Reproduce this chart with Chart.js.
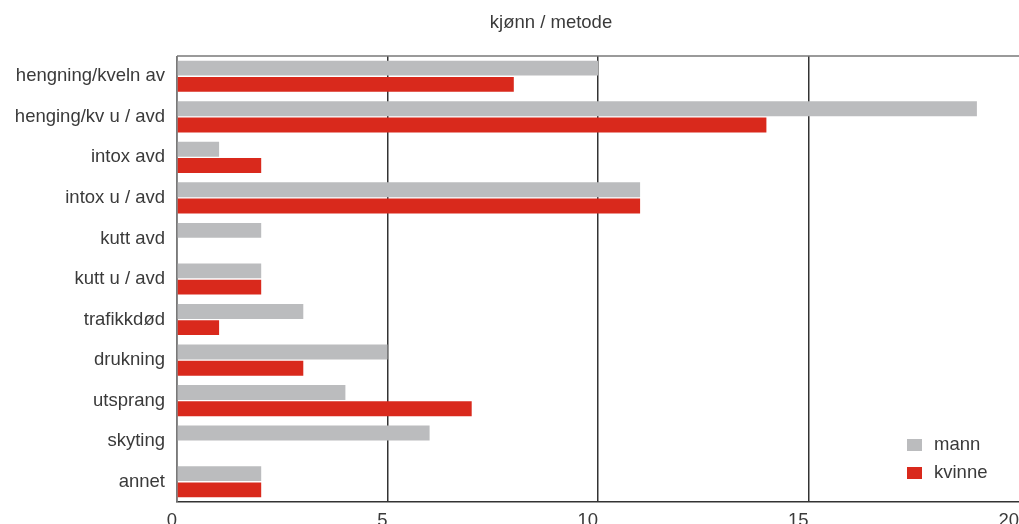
<!DOCTYPE html>
<html>
<head>
<meta charset="utf-8">
<script src="https://cdn.jsdelivr.net/npm/chart.js@4/dist/chart.umd.min.js"></script>
<style>
  html, body { margin: 0; padding: 0; background: #fff; }
  #wrap { width: 1019px; height: 524px; position: relative; }
</style>
</head>
<body>
<div id="wrap"><canvas id="c"></canvas></div>
<script>
// Selvmordsmetode fordelt på kjønn
const categories = [
  'hengning/kveln av', 'henging/kv u / avd', 'intox avd', 'intox u / avd',
  'kutt avd', 'kutt u / avd', 'trafikkdød', 'drukning', 'utsprang',
  'skyting', 'annet'
];
const mann   = [10, 19, 1, 11, 2, 2, 3, 5, 4, 6, 2];
const kvinne = [8, 14, 2, 11, 0, 2, 1, 3, 7, 0, 2];
const xTicks = [0, 5, 10, 15, 20];
const chartTitle = 'kjønn / metode';

const FONT = "'Liberation Sans', Arial, sans-serif";
const TEXT = '#3a3a3a';
const GREY = '#bbbcbe';
const RED = '#d9291c';

// Top and left frame lines of the plot area
const frame = {
  id: 'frame',
  beforeDatasetsDraw(chart) {
    const { ctx, chartArea: a } = chart;
    ctx.save();
    ctx.strokeStyle = '#7a7a7a';
    ctx.lineWidth = 1.5;
    ctx.beginPath();
    ctx.moveTo(a.left, a.top);
    ctx.lineTo(1019, a.top);
    ctx.moveTo(a.left, a.top);
    ctx.lineTo(a.left, a.bottom);
    ctx.stroke();
    ctx.restore();
  }
};

// Heading above the plot and the key inside its lower right corner
const extras = {
  id: 'extras',
  afterDraw(chart) {
    const { ctx } = chart;
    ctx.save();
    ctx.fillStyle = TEXT;
    ctx.font = '18.5px ' + FONT;
    ctx.textAlign = 'center';
    ctx.textBaseline = 'middle';
    ctx.fillText(chartTitle, 551, 23);

    ctx.textAlign = 'left';
    ctx.font = '18.5px ' + FONT;
    chart.data.datasets.forEach((ds, i) => {
      const y = 445 + i * 28;
      ctx.fillStyle = ds.backgroundColor;
      ctx.fillRect(907, y - 6, 15, 12);
      ctx.fillStyle = TEXT;
      ctx.fillText(ds.label, 934, y);
    });
    ctx.restore();
  }
};

new Chart(document.getElementById('c'), {
  type: 'bar',
  data: {
    labels: categories,
    datasets: [
      { label: 'mann', data: mann, backgroundColor: GREY },
      { label: 'kvinne', data: kvinne, backgroundColor: RED }
    ]
  },
  options: {
    indexAxis: 'y',
    responsive: true,
    maintainAspectRatio: false,
    animation: false,
    layout: { padding: { top: 56, right: -2, left: 0, bottom: 0 } },
    datasets: { bar: { categoryPercentage: 0.8, barPercentage: 0.92 } },
    plugins: {
      legend: { display: false },
      title: { display: false },
      tooltip: { enabled: false }
    },
    scales: {
      x: {
        min: 0, max: 20,
        afterBuildTicks(scale) { scale.ticks = xTicks.map(v => ({ value: v })); },
        afterFit(scale) {
          scale.height = 22;
          scale.paddingLeft = 0;
          scale.paddingRight = 0;
        },
        border: { display: true, color: '#333', width: 1.5 },
        grid: {
          drawTicks: false,
          lineWidth: 1.5,
          color(ctx) {
            const v = ctx.tick ? ctx.tick.value : null;
            if (v === 0) return '#7a7a7a';
            if (v === 20) return 'rgba(0,0,0,0)';
            return '#333';
          }
        },
        ticks: {
          align: 'end',
          padding: 8,
          color: TEXT,
          font: { family: FONT, size: 18.5 }
        }
      },
      y: {
        afterFit(scale) {
          scale.width = 177;
          scale.paddingTop = 0;
          scale.paddingBottom = 0;
        },
        border: { display: false },
        grid: { display: false, drawTicks: false },
        ticks: {
          padding: 12,
          color: TEXT,
          font: { family: FONT, size: 18.5 }
        }
      }
    }
  },
  plugins: [frame, extras]
});
</script>
</body>
</html>
